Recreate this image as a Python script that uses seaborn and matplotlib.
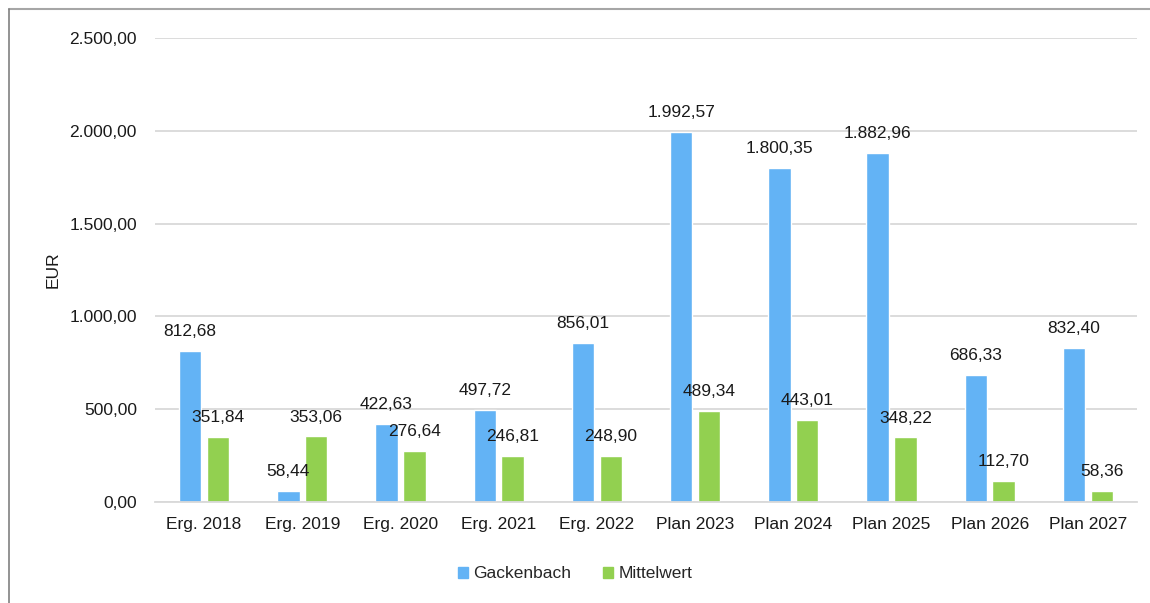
import matplotlib
matplotlib.use("Agg")
import matplotlib.pyplot as plt
import seaborn as sns
import pandas as pd
from matplotlib.lines import Line2D

categories = ["Erg. 2018", "Erg. 2019", "Erg. 2020", "Erg. 2021", "Erg. 2022",
              "Plan 2023", "Plan 2024", "Plan 2025", "Plan 2026", "Plan 2027"]
gackenbach = [812.68, 58.44, 422.63, 497.72, 856.01,
              1992.57, 1800.35, 1882.96, 686.33, 832.40]
mittelwert = [351.84, 353.06, 276.64, 246.81, 248.90,
              489.34, 443.01, 348.22, 112.70, 58.36]
series_names = ["Gackenbach", "Mittelwert"]
y_ticks = [0, 500, 1000, 1500, 2000, 2500]
colors = ["#63B3F5", "#92D050"]
text_color = "#1a1a1a"
fs = 12.5


def de_fmt(v):
    s = f"{v:,.2f}"
    return s.replace(",", "X").replace(".", ",").replace("X", ".")


df = pd.DataFrame({
    "Kategorie": categories * 2,
    "Wert": gackenbach + mittelwert,
    "Reihe": [series_names[0]] * len(categories) + [series_names[1]] * len(categories),
})

sns.set_theme(style="white")
plt.rcParams["font.family"] = ["Liberation Sans", "DejaVu Sans"]

fig = plt.figure(figsize=(11.5, 6.03), dpi=100)
ax = fig.add_axes([155 / 1150, 1 - 502 / 603, (1137 - 155) / 1150, (502 - 38) / 603])

sns.barplot(data=df, x="Kategorie", y="Wert", hue="Reihe", palette=colors,
            width=0.57, gap=0.2, saturation=1, ax=ax, legend=False)

for container in ax.containers:
    ax.bar_label(container, labels=[de_fmt(b.get_height()) for b in container],
                 padding=8.5, fontsize=fs, color=text_color)

ax.set_ylim(0, 2500)
ax.set_xlim(-0.5, len(categories) - 0.5)
ax.set_yticks(y_ticks)
ax.set_yticklabels([de_fmt(t) for t in y_ticks], fontsize=fs, color=text_color)
ax.tick_params(axis="y", length=0, pad=13)
ax.tick_params(axis="x", length=0, pad=11, labelsize=fs, labelcolor=text_color)
ax.yaxis.grid(True, color="#D9D9D9", linewidth=1.3)
ax.set_axisbelow(True)
for side in ["top", "right", "left"]:
    ax.spines[side].set_visible(False)
ax.spines["bottom"].set_color("#D9D9D9")
ax.spines["bottom"].set_linewidth(1.3)
ax.set_xlabel("")
ax.set_ylabel("")
fig.text(53 / 1150, 1 - 270 / 603, "EUR", rotation=90, ha="center", va="center",
         fontsize=fs, color=text_color)

handles = [plt.Rectangle((0, 0), 1, 1, color=c) for c in colors]
fig.legend(handles, series_names, loc="center", bbox_to_anchor=(0.5, 1 - 574 / 603),
           ncol=2, frameon=False, fontsize=fs, handlelength=0.6, handleheight=0.6,
           handletextpad=0.3, columnspacing=1.8)

# outer frame: top and left edges
fig.add_artist(Line2D([9 / 1150, 1], [1 - 9 / 603, 1 - 9 / 603], transform=fig.transFigure,
                      color="#A6A6A6", linewidth=1.5))
fig.add_artist(Line2D([9 / 1150, 9 / 1150], [0, 1 - 9 / 603], transform=fig.transFigure,
                      color="#808080", linewidth=1.2))

fig.savefig("out.png", dpi=100)
